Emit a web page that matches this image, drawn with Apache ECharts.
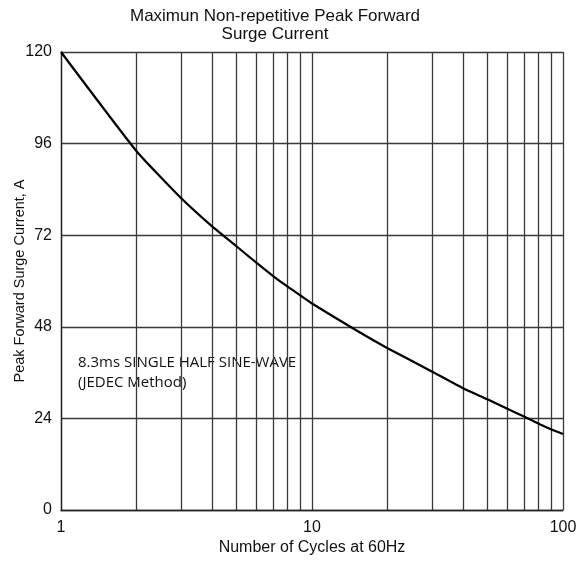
<!DOCTYPE html>
<html>
<head>
<meta charset="utf-8">
<script src="https://cdn.jsdelivr.net/npm/echarts@6/dist/echarts.min.js"></script>
<style>html,body{margin:0;padding:0;background:#fff}#c{width:584px;height:561px}</style>
</head>
<body>
<div id="c"></div>
<script>
const titleLines = ['Maximun Non-repetitive Peak Forward', 'Surge Current'];
const xName = 'Number of Cycles at 60Hz';
const yName = 'Peak Forward Surge Current, A';
const noteLines = ['8.3ms SINGLE HALF SINE-WAVE', '(JEDEC Method)'];
const cycles = [1, 2, 3, 4, 5, 6, 7, 8, 9, 10, 15, 20, 30, 40, 50, 60, 70, 80, 90, 100];
const current = [120, 94, 81.8, 74.3, 69.1, 64.8, 61.3, 58.5, 56.2, 54.1, 47.1, 42.4, 36.3, 31.9, 29.0, 26.5, 24.5, 22.6, 21.1, 19.9];
const minorGridX = [2, 3, 4, 5, 6, 7, 8, 9, 20, 30, 40, 50, 60, 70, 80, 90];
const yMin = 0, yMax = 120, yStep = 24;
const xMin = 1, xMax = 100;

const chart = echarts.init(document.getElementById('c'));
const gridColor = '#3a3a3a';
const font = 'Liberation Sans, Arial';
chart.setOption({
  animation: false,
  backgroundColor: '#fff',
  title: {
    text: titleLines.join('\n'),
    left: 270, top: 2, textAlign: 'center',
    textStyle: { fontFamily: font, fontSize: 17, fontWeight: 'normal', color: '#111', lineHeight: 18 }
  },
  grid: { left: 61, right: 21, top: 52, bottom: 51, containLabel: false, outerBoundsMode: 'none' },
  xAxis: {
    type: 'log', logBase: 10, min: xMin, max: xMax,
    name: xName, nameLocation: 'middle', nameGap: 30, nameMoveOverlap: false,
    nameTextStyle: { fontFamily: font, fontSize: 16, color: '#111' },
    axisLine: { show: true, lineStyle: { color: '#222', width: 1.3 } },
    axisTick: { show: false },
    axisLabel: { fontFamily: font, fontSize: 16, color: '#111', margin: 10 },
    splitLine: { show: true, lineStyle: { color: gridColor, width: 1.3 } }
  },
  yAxis: {
    type: 'value', min: yMin, max: yMax, interval: yStep,
    name: yName, nameLocation: 'middle', nameGap: 34, nameMoveOverlap: false,
    nameTextStyle: { fontFamily: font, fontSize: 14.5, color: '#111' },
    axisLine: { show: true, lineStyle: { color: '#222', width: 1.3 } },
    axisTick: { show: false },
    axisLabel: { fontFamily: font, fontSize: 16, color: '#111', margin: 9 },
    splitLine: { show: true, lineStyle: { color: gridColor, width: 1.3 } }
  },
  graphic: [{
    type: 'text', left: 78, top: 353,
    style: { text: noteLines.join('\n'), fontFamily: 'Open Sans, Noto Sans', fontSize: 15, lineHeight: 20, fill: '#111' }
  }],
  series: [{
    type: 'line',
    data: cycles.map((c, i) => [c, current[i]]),
    showSymbol: false, smooth: 0.15,
    lineStyle: { color: '#000', width: 2.2 },
    markLine: {
      silent: true, symbol: 'none', label: { show: false },
      lineStyle: { color: gridColor, width: 1.3, type: 'solid' },
      data: minorGridX.map(v => ({ xAxis: v }))
    },
    z: 5
  }]
});
</script>
</body>
</html>
